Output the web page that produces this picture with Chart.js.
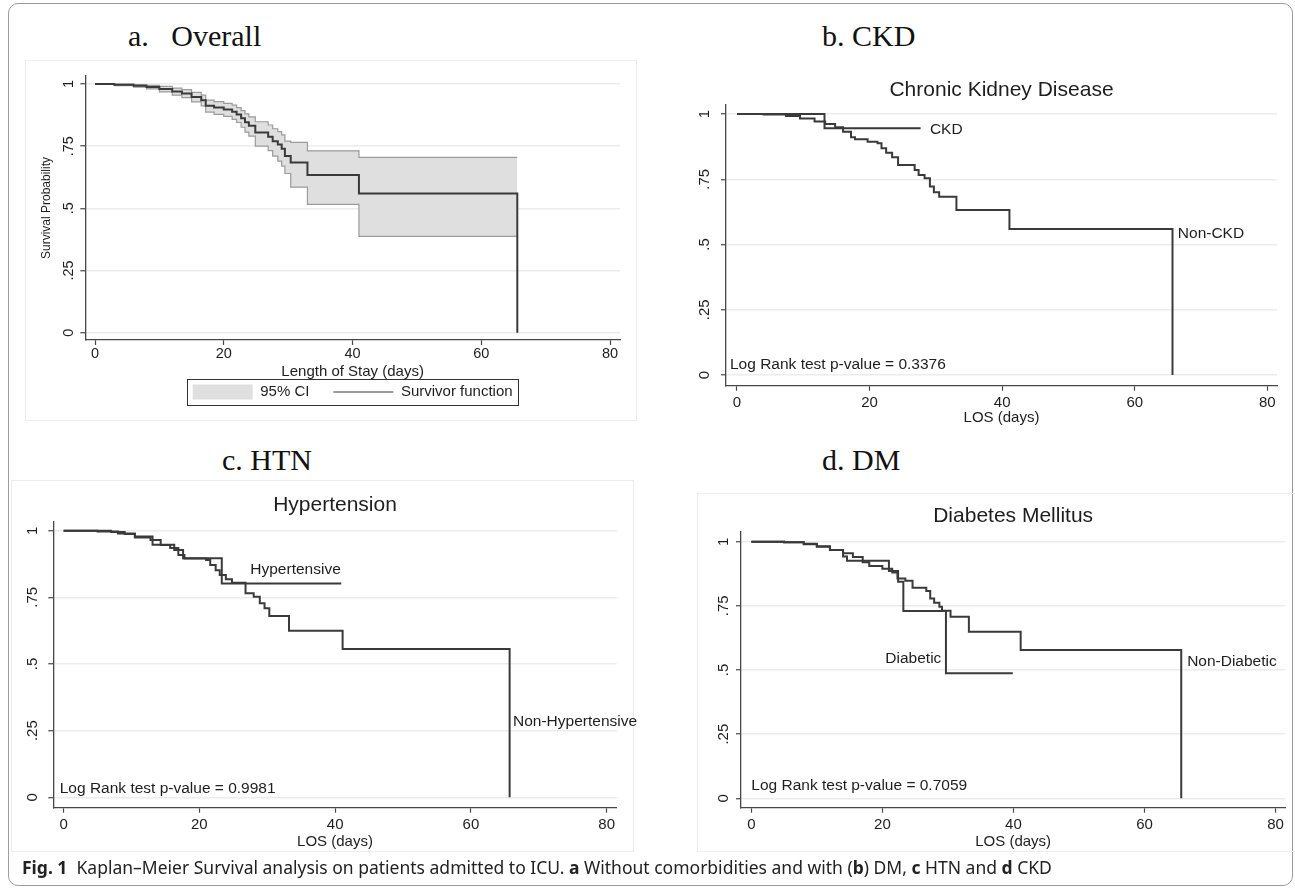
<!DOCTYPE html>
<html>
<head>
<meta charset="utf-8">
<script src="https://cdn.jsdelivr.net/npm/chart.js@4.4.1/dist/chart.umd.min.js"></script>
<style>
  body { margin: 0; background: #fff; }
  #page { position: relative; width: 1295px; height: 889px; overflow: hidden; background: #fff; }
  .outer { position: absolute; left: 8px; top: 3px; width: 1283px; height: 881px; border: 1px solid #9c9c9c; border-radius: 10px; }
  .frame { position: absolute; border: 1px solid #ededed; }
  .head { position: absolute; font-family: "Liberation Serif", "Times New Roman", serif; font-size: 30px; color: #111; white-space: pre; line-height: 1; }
  canvas { position: absolute; }
  .cap { position: absolute; left: 22px; top: 855px; font-family: "Noto Sans", "Open Sans", sans-serif; font-size: 17.5px; color: #222; white-space: nowrap; }
</style>
</head>
<body>
<div id="page">
  <div class="outer"></div>
  <div class="frame" style="left:25px;top:60px;width:610px;height:359px"></div>
  <div class="frame" style="left:11px;top:480px;width:621px;height:370px"></div>
  <div class="frame" style="left:697px;top:493px;width:597px;height:357px"></div>

  <div class="head" style="left:128px;top:21px">a.   Overall</div>
  <div class="head" style="left:822px;top:21px">b. CKD</div>
  <div class="head" style="left:222px;top:445px">c. HTN</div>
  <div class="head" style="left:822px;top:445px">d. DM</div>

  <canvas id="chartA" width="620" height="360" style="left:20px;top:60px"></canvas>
  <canvas id="chartB" width="635" height="370" style="left:660px;top:60px"></canvas>
  <canvas id="chartC" width="630" height="380" style="left:12px;top:478px"></canvas>
  <canvas id="chartD" width="635" height="380" style="left:660px;top:478px"></canvas>

  <div class="cap"><b>Fig. 1</b>&nbsp; Kaplan–Meier Survival analysis on patients admitted to ICU. <b>a</b> Without comorbidities and with (<b>b</b>) DM, <b>c</b> HTN and <b>d</b> CKD</div>
</div>

<script>
// axis ticks
const xTicks = [0, 20, 40, 60, 80];
const yTicks = [0, 0.25, 0.5, 0.75, 1];
const yTickLabels = ['0', '.25', '.5', '.75', '1'];

// a. overall survivor function with 95% CI
const allDays  = [0, 3, 6, 8, 10, 12, 13.5, 15, 16.5, 17.2, 18.5, 20, 21.3, 22, 22.7, 23.3, 23.9, 24.9, 26.9, 27.6, 28.4, 29, 29.5, 30.4, 33, 41, 65.6];
const allSurv  = [1, .997, .993, .988, .98, .97, .962, .948, .935, .912, .905, .897, .888, .877, .862, .846, .832, .805, .788, .770, .757, .740, .710, .684, .634, .560, 0];
const allUpper = [1, .999, .997, .994, .99, .983, .977, .966, .955, .935, .929, .922, .915, .905, .893, .880, .868, .848, .835, .820, .808, .795, .770, .765, .731, .705, .705];
const allLower = [1, .993, .987, .980, .968, .955, .945, .928, .912, .887, .878, .870, .858, .845, .826, .806, .790, .750, .732, .710, .690, .670, .640, .585, .516, .387, .387];

// b. CKD
const ckdDays = [0, 13.2, 27.7];
const ckdSurv = [1, .945, .945];
const nonCkdDays = [0, 4, 7.4, 9.5, 11.7, 13.3, 14.8, 16, 17.2, 17.8, 19.7, 21.2, 21.8, 22.5, 23.4, 24.3, 26.8, 27.4, 28.3, 29.1, 29.7, 30.5, 33.1, 41.1, 65.7];
const nonCkdSurv = [1, .998, .992, .983, .971, .962, .949, .932, .911, .903, .894, .888, .869, .852, .834, .805, .785, .766, .754, .722, .700, .683, .632, .559, 0];

// c. HTN
const htnDays = [0, 5, 8, 10.5, 13.1, 16.3, 17.6, 23.3, 40.9];
const htnSurv = [1, .997, .99, .978, .947, .928, .897, .802, .802];
const nonHtnDays = [0, 7, 9, 10.5, 12.8, 14.3, 15.7, 16.9, 17.8, 21, 21.6, 22.4, 23, 23.9, 24.8, 26.8, 28, 28.9, 29.6, 30.3, 33.2, 41.1, 65.7];
const nonHtnSurv = [1, .995, .988, .975, .965, .946, .935, .909, .896, .89, .871, .852, .834, .818, .805, .765, .752, .728, .709, .68, .625, .556, 0];

// d. DM
const dmDays = [0, 5, 8, 10, 12, 14, 14.6, 21, 22.4, 23.2, 29.7, 39.9];
const dmSurv = [1, .998, .992, .982, .968, .942, .926, .886, .844, .730, .487, .487];
const nonDmDays = [0, 5, 8, 10, 12, 14, 15.5, 17, 18, 20, 21.5, 22.3, 23.5, 24.6, 26.7, 27.3, 27.9, 28.7, 29.1, 30.4, 33.2, 41.1, 65.6];
const nonDmSurv = [1, .998, .99, .98, .968, .955, .94, .92, .905, .895, .88, .857, .848, .821, .808, .779, .762, .747, .731, .708, .649, .578, 0];

const INK = '#1e1e1e', AXIS = '#474747', GRID = '#ececec', LINE = '#3a3a3a';
Chart.defaults.font.family = '"Liberation Sans", Arial, sans-serif';
Chart.defaults.color = INK;

function pts(days, vals) {
  return days.map((d, i) => ({ x: d, y: vals[i] }));
}

function curve(label, days, vals) {
  return { label: label, data: pts(days, vals), stepped: true, borderColor: LINE, borderWidth: 2,
           pointRadius: 0, fill: false, pointStyle: 'line', pointBorderColor: LINE, pointBorderWidth: 1.2 };
}

// text placed in data units (curve labels, log rank note)
const notes = {
  id: 'notes',
  afterDatasetsDraw(chart, args, opts) {
    const { ctx, scales: { x, y } } = chart;
    ctx.save();
    ctx.fillStyle = INK;
    ctx.font = opts.size + 'px "Liberation Sans", Arial, sans-serif';
    ctx.textBaseline = 'middle';
    (opts.items || []).forEach(n => {
      ctx.textAlign = n.align || 'left';
      ctx.fillText(n.text, x.getPixelForValue(n.x), y.getPixelForValue(n.y));
    });
    ctx.restore();
  }
};

// box around the stata-style legend
const legendFrame = {
  id: 'legendFrame',
  afterDraw(chart) {
    const lg = chart.legend;
    if (!lg || !lg.legendHitBoxes || !lg.legendHitBoxes.length) return;
    const hb = lg.legendHitBoxes;
    const l = Math.min(...hb.map(h => h.left)) - 6;
    const r = Math.max(...hb.map(h => h.left + h.width)) + 5;
    const t = hb[0].top - 5.5, b = hb[0].top + hb[0].height + 5.5;
    const ctx = chart.ctx;
    ctx.save();
    ctx.strokeStyle = '#333';
    ctx.lineWidth = 1;
    ctx.strokeRect(Math.round(l) + 0.5, Math.round(t) + 0.5, Math.round(r - l), Math.round(b - t));
    ctx.restore();
  }
};

function axes(g) {
  return {
    x: {
      type: 'linear', min: g.xMin, max: g.xMax,
      afterBuildTicks: s => { s.ticks = xTicks.map(v => ({ value: v })); },
      afterFit: s => { s.height = g.xH; },
      grid: { drawOnChartArea: false, tickLength: 5, tickColor: AXIS, tickWidth: 1.2 },
      border: { color: AXIS, width: 1.3 },
      ticks: { color: INK, padding: g.xPad, font: { size: g.tick }, maxRotation: 0, callback: v => String(v) },
      title: { display: true, text: g.xTitle, color: INK, font: { size: g.xTitleSize },
               padding: { top: 0, bottom: g.xTitlePad } }
    },
    y: {
      type: 'linear', min: g.yMin, max: g.yMax,
      afterBuildTicks: s => { s.ticks = yTicks.map(v => ({ value: v })); },
      afterFit: s => { s.width = g.yW; },
      grid: { color: GRID, lineWidth: 1.5, tickLength: 5, tickColor: AXIS, tickWidth: 1.2 },
      border: { color: AXIS, width: 1.3 },
      ticks: { color: INK, padding: g.yPad, font: { size: g.tick }, minRotation: 90, maxRotation: 90,
               crossAlign: 'center', callback: (v, i) => yTickLabels[i] },
      title: g.yTitle ? { display: true, text: g.yTitle, color: INK, font: { size: 12 },
                          padding: { top: g.yTitlePad, bottom: 0 } } : { display: false }
    }
  };
}

function titleOpts(text, pad) {
  return { display: true, text: text, fullSize: false, color: INK,
           font: { size: 21, weight: 'normal' }, padding: { top: 0, bottom: pad } };
}

// a. Overall
const survivor = curve('Survivor function', allDays, allSurv);
survivor.order = 0;
new Chart(document.getElementById('chartA'), {
  type: 'line',
  data: {
    datasets: [
      { label: '95% CI', order: 1, data: pts(allDays, allUpper), stepped: true, borderColor: '#9b9b9b', borderWidth: 1.2,
        backgroundColor: '#dfdfdf', fill: '+1', pointRadius: 0, pointStyle: 'rect',
        pointBackgroundColor: '#dfdfdf', pointBorderWidth: 0 },
      { label: '', order: 2, data: pts(allDays, allLower), stepped: true, borderColor: '#9b9b9b', borderWidth: 1.2,
        fill: false, pointRadius: 0 },
      survivor
    ]
  },
  options: {
    animation: false, responsive: false, events: [],
    layout: { padding: { left: 0, right: 20, top: 16, bottom: 10.5 } },
    scales: axes({ xMin: -1.507, xMax: 81.553, yMin: -0.0294, yMax: 1.032, xH: 20.5, yW: 65.3,
                   xPad: 0, yPad: 1, tick: 14.5, xTitle: 'Length of Stay (days)', xTitleSize: 15,
                   xTitlePad: -20.5, yTitle: 'Survival Probability', yTitlePad: 19.8 }),
    plugins: {
      filler: { drawTime: 'beforeDatasetsDraw' },
      tooltip: { enabled: false },
      legend: {
        display: true, position: 'bottom', fullSize: false,
        labels: { usePointStyle: true, pointStyleWidth: 60, boxHeight: 15, padding: 24, color: INK,
                  font: { size: 15 }, filter: item => item.text !== '',
                  sort: (a, b) => a.datasetIndex - b.datasetIndex }
      }
    }
  },
  plugins: [legendFrame]
});

// b. CKD
new Chart(document.getElementById('chartB'), {
  type: 'line',
  data: { datasets: [curve('CKD', ckdDays, ckdSurv), curve('Non-CKD', nonCkdDays, nonCkdSurv)] },
  options: {
    animation: false, responsive: false, events: [],
    layout: { padding: { left: 0, right: 18, top: 17.4, bottom: 0 } },
    scales: axes({ xMin: -1.659, xMax: 81.463, yMin: -0.041, yMax: 1.0345, xH: 44.3, yW: 66,
                   xPad: 3.3, yPad: 5.6, tick: 15, xTitle: 'LOS (days)', xTitleSize: 15, xTitlePad: 3 }),
    plugins: {
      tooltip: { enabled: false }, legend: { display: false },
      title: titleOpts('Chronic Kidney Disease', 2.4),
      notes: { size: 15.5, items: [
        { text: 'CKD', x: 29.1, y: 0.941 },
        { text: 'Non-CKD', x: 66.5, y: 0.54 },
        { text: 'Log Rank test p-value = 0.3376', x: -1.06, y: 0.038 }
      ] }
    }
  },
  plugins: [notes]
});

// c. HTN
new Chart(document.getElementById('chartC'), {
  type: 'line',
  data: { datasets: [curve('Hypertensive', htnDays, htnSurv), curve('Non-Hypertensive', nonHtnDays, nonHtnSurv)] },
  options: {
    animation: false, responsive: false, events: [],
    layout: { padding: { left: 0, right: 25.3, top: 14.4, bottom: 0 } },
    scales: axes({ xMin: -1.517, xMax: 81.473, yMin: -0.039, yMax: 1.0338, xH: 50.3, yW: 41.3,
                   xPad: 3.3, yPad: 4.6, tick: 15, xTitle: 'LOS (days)', xTitleSize: 15, xTitlePad: 7 }),
    plugins: {
      tooltip: { enabled: false }, legend: { display: false },
      title: titleOpts('Hypertension', 4.1),
      notes: { size: 15.5, items: [
        { text: 'Hypertensive', x: 27.5, y: 0.8525 },
        { text: 'Non-Hypertensive', x: 66.2, y: 0.284 },
        { text: 'Log Rank test p-value = 0.9981', x: -0.57, y: 0.034 }
      ] }
    }
  },
  plugins: [notes]
});

// d. DM
new Chart(document.getElementById('chartD'), {
  type: 'line',
  data: { datasets: [curve('Diabetic', dmDays, dmSurv), curve('Non-Diabetic', nonDmDays, nonDmSurv)] },
  options: {
    animation: false, responsive: false, events: [],
    layout: { padding: { left: 0, right: 9.7, top: 26.1, bottom: 0 } },
    scales: axes({ xMin: -1.572, xMax: 81.48, yMin: -0.0366, yMax: 1.039, xH: 50.3, yW: 81,
                   xPad: 3.3, yPad: 1.8, tick: 15, xTitle: 'LOS (days)', xTitleSize: 15, xTitlePad: 7 }),
    plugins: {
      tooltip: { enabled: false }, legend: { display: false },
      title: titleOpts('Diabetes Mellitus', 2.4),
      notes: { size: 15.5, items: [
        { text: 'Diabetic', x: 29.0, y: 0.543, align: 'right' },
        { text: 'Non-Diabetic', x: 66.5, y: 0.532 },
        { text: 'Log Rank test p-value = 0.7059', x: 0, y: 0.048 }
      ] }
    }
  },
  plugins: [notes]
});
</script>
</body>
</html>
